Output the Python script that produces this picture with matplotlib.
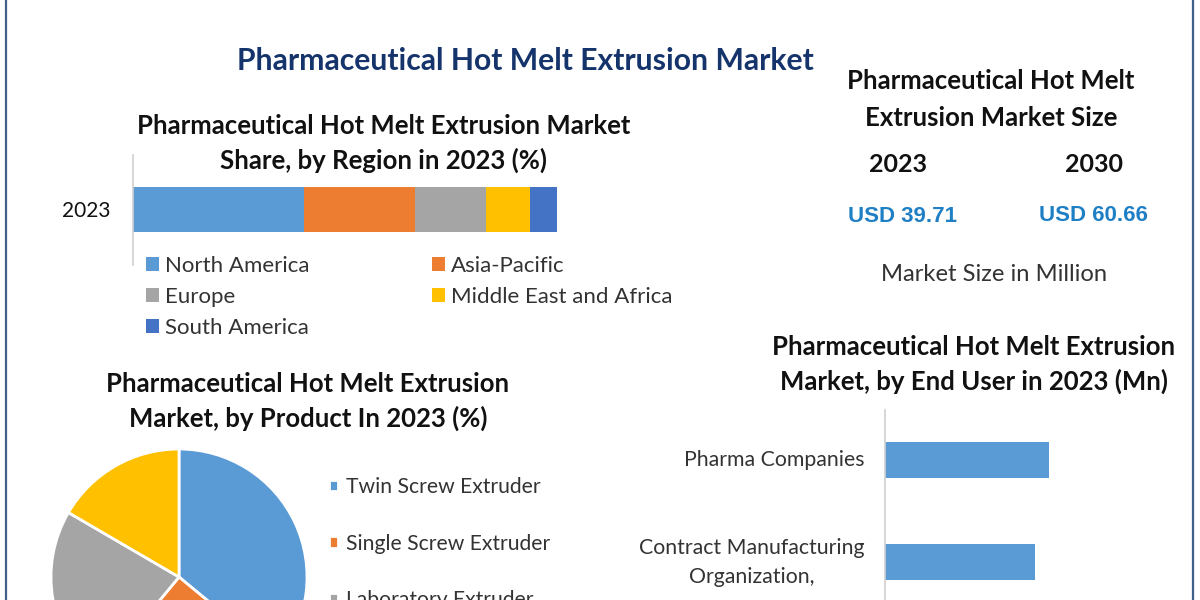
import matplotlib
matplotlib.use("Agg")
import matplotlib.pyplot as plt

W, H = 1200, 600

plt.rcParams["font.family"] = ["Lato", "DejaVu Sans"]

# --- data ---
region_year = "2023"
region_names = ["North America", "Asia-Pacific", "Europe", "Middle East and Africa", "South America"]
region_share = [40.3, 26.2, 16.7, 10.4, 6.4]
region_colors = ["#5b9bd5", "#ed7d31", "#a5a5a5", "#ffc000", "#4472c4"]

product_labels = ["Twin Screw Extruder", "Single Screw Extruder", "Laboratory Extruder"]
product_share = [36.0, 25.0, 22.4, 16.6]
product_colors = ["#5b9bd5", "#ed7d31", "#a5a5a5", "#ffc000"]

enduser_names = ["Pharma Companies", "Contract Manufacturing\nOrganization,"]
enduser_values = [16.4, 15.0]

size_years = ["2023", "2030"]
size_values = ["USD 39.71", "USD 60.66"]

INK = "#111111"
TEXT = "#333333"
NAVY = "#15346b"
USD = "#1f7fc4"
FRAME = "#3f6089"
AXIS = "#d0d0d0"


def px_axes(fig, x0, y0, x1, y1):
    # rectangle given in picture pixels, y going down
    return fig.add_axes([x0 / W, 1 - y1 / H, (x1 - x0) / W, (y1 - y0) / H])


def px_text(fig, x, y, s, **kw):
    kw.setdefault("ha", "center")
    kw.setdefault("va", "center")
    return fig.text(x / W, 1 - y / H, s, **kw)


def clean(ax):
    for side in ["top", "right", "bottom"]:
        ax.spines[side].set_visible(False)
    ax.spines["left"].set_color(AXIS)
    ax.spines["left"].set_linewidth(1.2)
    ax.set_xticks([])
    ax.tick_params(axis="y", length=0)


fig = plt.figure(figsize=(W / 100, H / 100), dpi=100, facecolor="white")

# frame down the two sides
for x in (6, 1193):
    fig.add_artist(plt.Line2D([x / W, x / W], [0, 1], color=FRAME, lw=1.6))

px_text(fig, 525, 61, "Pharmaceutical Hot Melt Extrusion Market", color=NAVY,
        fontsize=21.7, fontweight="bold")

# --- region share ---
px_text(fig, 384, 126, "Pharmaceutical Hot Melt Extrusion Market", color=INK, fontsize=18.5, fontweight="bold")
px_text(fig, 384, 160.5, "Share, by Region in 2023 (%)", color=INK, fontsize=18.5, fontweight="bold")

ax = px_axes(fig, 133, 155, 557, 265)
left = 0
bars = []
for name, val, col in zip(region_names, region_share, region_colors):
    bars.append(ax.barh([0], [val], left=left, height=0.41, color=col, label=name))
    left += val
ax.set_xlim(0, sum(region_share))
ax.set_ylim(0.505, -0.495)
clean(ax)
ax.set_yticks([0], [region_year], fontsize=15, color=INK)
ax.tick_params(axis="y", pad=16)
# legend reads down the columns
order = [0, 2, 4, 1, 3]
fig.legend(handles=[bars[i] for i in order], ncols=2, loc="upper left",
           bbox_to_anchor=(146 / W, 1 - 256 / H), frameon=False, fontsize=16, labelcolor=TEXT,
           handlelength=0.59, handleheight=0.59, handletextpad=0.27, labelspacing=0.5,
           columnspacing=5.5, borderpad=0, borderaxespad=0)

# --- product pie ---
px_text(fig, 308, 384, "Pharmaceutical Hot Melt Extrusion", color=INK, fontsize=18.5, fontweight="bold")
px_text(fig, 308, 418.5, "Market, by Product In 2023 (%)", color=INK, fontsize=18.5, fontweight="bold")

ax = px_axes(fig, 51, 449, 307, 705)
wedges, _ = ax.pie(product_share, colors=product_colors, startangle=90, counterclock=False,
                   radius=1, wedgeprops={"edgecolor": "white", "linewidth": 2})
ax.set_xlim(-1, 1)
ax.set_ylim(-1, 1)
fig.legend(handles=wedges[:3], labels=product_labels, loc="upper left",
           bbox_to_anchor=(329 / W, 1 - 477 / H), frameon=False, fontsize=15.2, labelcolor=TEXT,
           handlelength=0.43, handleheight=0.43, handletextpad=0.38, labelspacing=1.73,
           borderpad=0, borderaxespad=0)

# --- market size block ---
px_text(fig, 991, 81, "Pharmaceutical Hot Melt", color=INK, fontsize=18.5, fontweight="bold")
px_text(fig, 991, 118, "Extrusion Market Size", color=INK, fontsize=18.5, fontweight="bold")
for x, yr in zip((898, 1094), size_years):
    px_text(fig, x, 164, yr, color=INK, fontsize=18, fontweight="bold")
for x, y, val in zip((902, 1093), (217, 215), size_values):
    px_text(fig, x, y, val, color=USD, fontsize=16, fontweight="bold", family="Liberation Sans")
px_text(fig, 994, 275, "Market Size in Million", color=TEXT, fontsize=17.1)

# --- end user ---
px_text(fig, 974, 347, "Pharmaceutical Hot Melt Extrusion", color=INK, fontsize=18.5, fontweight="bold")
px_text(fig, 974, 381, "Market, by End User in 2023 (Mn)", color=INK, fontsize=18.5, fontweight="bold")

ax = px_axes(fig, 885, 410, 1185, 600)
ax.barh(range(len(enduser_names)), enduser_values, height=0.35, color="#5b9bd5")
ax.set_xlim(0, 30)
ax.set_ylim(1.37, -0.49)
clean(ax)
ax.set_yticks(range(len(enduser_names)), enduser_names, fontsize=15.3, color=TEXT,
              multialignment="center", linespacing=1.54, va="center")
ax.tick_params(axis="y", pad=15)

fig.savefig("out.png", dpi=100)
